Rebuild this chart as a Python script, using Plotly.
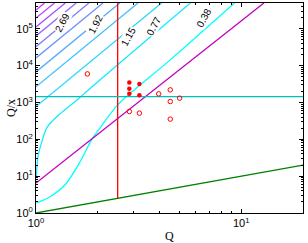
import math
import plotly.graph_objects as go

# ---- data ----
levels = [0.38, 0.77, 1.15, 1.54, 1.92, 2.31, 2.69, 3.08, 3.46, 3.85, 4.23]
level_colors = ["#00ffff", "#15eaff", "#2bd5ff", "#40bfff", "#55aaff", "#6a95ff",
                "#8080ff", "#956aff", "#aa55ff", "#bf40ff", "#d52bff"]

# contour paths (Q, Q/x) per level
contour_q = [
    [1.003, 1.171, 1.386, 1.64, 1.877, 2.054, 2.50, 4.51, 9.27],
    [1.003, 1.023, 1.058, 1.132, 1.320, 1.591, 1.781, 2.67, 5.65],
    [1.0, 4.09],
    [1.0, 3.14],
    [1.0, 2.56],
    [1.0, 2.12],
    [1.0, 1.81],
    [1.0, 1.57],
    [1.0, 1.39],
    [1.0, 1.23],
    [1.0, 1.10],
]
contour_y = [
    [1.87, 2.77, 5.85, 24.6, 103, 205, 861, 14300, 5e5],
    [9.6, 34.6, 73, 211, 513, 1190, 2090, 14450, 5e5],
    [774, 5e5],
    [2650, 5e5],
    [6750, 5e5],
    [16200, 5e5],
    [32700, 5e5],
    [63800, 5e5],
    [112000, 5e5],
    [196000, 5e5],
    [323000, 5e5],
]

# labelled contours: level text and label position (Q, Q/x)
label_text = ["2.69", "1.92", "1.15", "0.77", "0.38"]
label_q = [1.34, 1.95, 2.83, 3.77, 6.6]
label_y = [1.5e5, 1.3e5, 6.0e4, 1.2e5, 2.0e5]

# reference lines
green_q = [1, 20]
green_y = [1, 20]
magenta_q = [1, 12.9]
magenta_y = [6.5, 5e5]
red_q = [2.5, 2.5]
red_y = [2.5, 5e5]
cyan_q = [1, 20]
cyan_y = [1445, 1445]

# observations
open_q = [1.78, 3.96, 4.51, 4.51, 5.01, 2.85, 3.19, 4.51]
open_y = [5960, 1710, 2195, 1058, 1308, 567, 513, 353]
filled_q = [2.85, 2.85, 2.85, 3.19, 3.19]
filled_y = [3460, 2340, 1710, 3190, 1580]

fig = go.Figure()

for q, y, c in zip(contour_q, contour_y, level_colors):
    fig.add_trace(go.Scatter(x=q, y=y, mode="lines",
                             line=dict(color=c, width=1.3, shape="spline", smoothing=0.8),
                             hoverinfo="skip", showlegend=False))

fig.add_trace(go.Scatter(x=green_q, y=green_y, mode="lines",
                         line=dict(color="#008000", width=1.3), showlegend=False))
fig.add_trace(go.Scatter(x=magenta_q, y=magenta_y, mode="lines",
                         line=dict(color="#bf00bf", width=1.3), showlegend=False))
fig.add_trace(go.Scatter(x=red_q, y=red_y, mode="lines",
                         line=dict(color="#ff0000", width=1.3), showlegend=False))
fig.add_trace(go.Scatter(x=cyan_q, y=cyan_y, mode="lines",
                         line=dict(color="#00bfbf", width=1.3), showlegend=False))

fig.add_trace(go.Scatter(x=open_q, y=open_y, mode="markers",
                         marker=dict(symbol="circle-open", size=4.5, color="#ff0000",
                                     line=dict(width=1)), showlegend=False))
fig.add_trace(go.Scatter(x=filled_q, y=filled_y, mode="markers",
                         marker=dict(symbol="circle", size=4.5, color="#ff0000"),
                         showlegend=False))

for t, q, y in zip(label_text, label_q, label_y):
    fig.add_annotation(x=math.log10(q), y=math.log10(y), xref="x", yref="y",
                       text=t, showarrow=False, textangle=-62,
                       font=dict(family="Liberation Sans", size=10, color="black"),
                       bgcolor="white", borderpad=0)

axis_common = dict(showline=True, linecolor="black", linewidth=1, mirror="allticks",
                   ticks="inside", ticklen=4, tickcolor="black", showgrid=False,
                   zeroline=False, automargin=False,
                   tickfont=dict(family="Liberation Sans", size=11, color="black"))

fig.update_xaxes(type="log", range=[0, math.log10(20)],
                 tickvals=[1, 10], ticktext=["10<sup>0</sup>", "10<sup>1</sup>"],
                 minor=dict(ticks="inside", ticklen=2, tickcolor="black",
                            tickvals=[2, 3, 4, 5, 6, 7, 8, 9, 20]),
                 **axis_common)
fig.update_yaxes(type="log", range=[0, math.log10(5e5)],
                 tickvals=[1, 10, 100, 1e3, 1e4, 1e5],
                 ticktext=["10<sup>%d</sup>" % i for i in range(6)],
                 minor=dict(ticks="inside", ticklen=2, tickcolor="black",
                            tickvals=[m * 10 ** e for e in range(6) for m in range(2, 10)]),
                 **axis_common)

fig.add_annotation(x=0.5, y=-0.11, xref="paper", yref="paper", yanchor="middle",
                   text="Q", showarrow=False,
                   font=dict(family="Liberation Serif", size=12, color="black"))
fig.add_annotation(x=-0.094, y=0.5, xref="paper", yref="paper", xanchor="center",
                   yanchor="middle", text="Q/x", showarrow=False, textangle=-90,
                   font=dict(family="Liberation Serif", size=12, color="black"))

fig.update_layout(width=308, height=243,
                  margin=dict(l=36, r=5, t=3, b=30),
                  plot_bgcolor="white", paper_bgcolor="white")

fig.write_html("out.html", config={"displayModeBar": False},
               post_script="document.body.style.margin='0';document.body.style.overflow='hidden';")
